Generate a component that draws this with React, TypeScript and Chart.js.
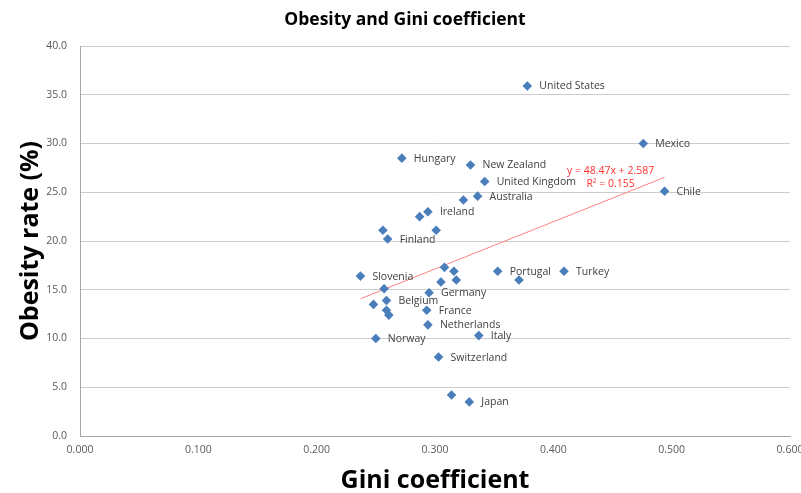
import React, { useEffect, useRef } from "react";
import { Chart, registerables } from "chart.js";

Chart.register(...registerables);

// OECD countries: Gini coefficient vs. adult obesity rate
const countries = [
  "United States", "Mexico", "Hungary", "New Zealand", "United Kingdom",
  "Chile", "Australia", "", "Ireland", "",
  "", "", "Finland", "", "",
  "Portugal", "Turkey", "Slovenia", "", "",
  "", "", "Germany", "Belgium", "",
  "", "France", "", "Netherlands", "Italy",
  "Norway", "Switzerland", "", "Japan",
];

const gini = [
  0.378, 0.476, 0.272, 0.330, 0.342,
  0.494, 0.336, 0.324, 0.294, 0.287,
  0.256, 0.301, 0.260, 0.308, 0.316,
  0.353, 0.409, 0.237, 0.318, 0.371,
  0.305, 0.257, 0.295, 0.259, 0.248,
  0.259, 0.293, 0.261, 0.294, 0.337,
  0.250, 0.303, 0.314, 0.329,
];

const obesity = [
  35.9, 30.0, 28.5, 27.8, 26.1,
  25.1, 24.6, 24.2, 23.0, 22.5,
  21.1, 21.1, 20.2, 17.3, 16.9,
  16.9, 16.9, 16.4, 16.0, 16.0,
  15.8, 15.1, 14.7, 13.9, 13.5,
  12.9, 12.9, 12.4, 11.4, 10.3,
  10.0, 8.1, 4.2, 3.5,
];

// Linear trend line as reported by the fit
const trendSlope = 48.47;
const trendIntercept = 2.587;
const trendR2 = 0.155;

const FONT = "'Open Sans', 'Noto Sans', sans-serif";

const annotations = {
  id: "countryAnnotations",
  afterDatasetsDraw(chart: any) {
    const { ctx } = chart;
    ctx.save();

    // country names to the right of each marker
    const pts = chart.getDatasetMeta(0).data;
    ctx.font = `10.5px ${FONT}`;
    ctx.fillStyle = "#404040";
    ctx.textAlign = "left";
    ctx.textBaseline = "middle";
    pts.forEach((pt: any, i: number) => {
      if (countries[i]) ctx.fillText(countries[i], pt.x + 12, pt.y + 0.5);
    });

    // trend equation near the end of the trend line
    const trendEnd = chart.getDatasetMeta(1).data[1];
    ctx.fillStyle = "#FF3030";
    ctx.textAlign = "center";
    ctx.fillText(`y = ${trendSlope}x + ${trendIntercept}`, trendEnd.x - 54, trendEnd.y - 6);
    ctx.fillText(`R² = ${trendR2}`, trendEnd.x - 54, trendEnd.y + 7);

    // chart title
    ctx.font = `bold 17.5px ${FONT}`;
    ctx.fillStyle = "#000000";
    ctx.fillText("Obesity and Gini coefficient", 405, 20);
    ctx.restore();
  },
};

export default function App() {
  const canvasRef = useRef<HTMLCanvasElement | null>(null);

  useEffect(() => {
    if (!canvasRef.current) return;
    const minX = Math.min(...gini);
    const maxX = Math.max(...gini);

    const chart = new Chart(canvasRef.current, {
      type: "scatter",
      data: {
        datasets: [
          {
            label: "Countries",
            data: gini.map((g, i) => ({ x: g, y: obesity[i] })),
            pointStyle: "rectRot",
            pointRadius: 4.8,
            backgroundColor: "#4A7EBB",
            borderColor: "#4A7EBB",
            borderWidth: 0,
          },
          {
            label: "Linear trend",
            type: "line",
            data: [
              { x: minX, y: trendSlope * minX + trendIntercept },
              { x: maxX, y: trendSlope * maxX + trendIntercept },
            ],
            borderColor: "#FF8080",
            borderWidth: 1,
            pointRadius: 0,
            fill: false,
          },
        ],
      },
      options: {
        animation: false,
        responsive: true,
        maintainAspectRatio: false,
        events: [],
        layout: { padding: { top: 46, right: 11, left: 0, bottom: 0 } },
        plugins: {
          legend: { display: false },
          tooltip: { enabled: false },
          title: { display: false },
        },
        scales: {
          x: {
            type: "linear",
            min: 0,
            max: 0.6,
            ticks: {
              stepSize: 0.1,
              padding: 8,
              color: "#595959",
              font: { family: FONT, size: 10.5 },
              callback: (v: any) => Number(v).toFixed(3),
            },
            grid: { display: false, drawTicks: false },
            border: { display: true, color: "#A6A6A6", width: 1 },
            title: {
              display: true,
              text: "Gini coefficient",
              color: "#000000",
              font: { family: FONT, size: 25, weight: "bold", lineHeight: 1 },
              padding: { top: 0, bottom: 0 },
            },
            afterFit: (scale: any) => {
              scale.height = 57;
              // let the last tick label run past the plot edge
              scale.paddingLeft = 0;
              scale.paddingRight = 0;
            },
          },
          y: {
            type: "linear",
            min: 0,
            max: 40,
            ticks: {
              stepSize: 5,
              padding: 13,
              color: "#595959",
              font: { family: FONT, size: 10.5 },
              callback: (v: any) => Number(v).toFixed(1),
            },
            grid: { color: "#CCCCCC", lineWidth: 1, drawTicks: false },
            border: { display: true, color: "#A6A6A6", width: 1 },
            title: {
              display: true,
              text: "Obesity rate (%)",
              color: "#000000",
              font: { family: FONT, size: 25, weight: "bold", lineHeight: 1 },
              padding: { top: 18, bottom: 0 },
            },
            afterFit: (scale: any) => {
              scale.width = 80;
              scale.paddingTop = 0;
              scale.paddingBottom = 0;
            },
          },
        },
      },
      plugins: [annotations],
    });

    return () => chart.destroy();
  }, []);

  return (
    <div style={{ position: "fixed", left: 0, top: 0, width: 801, height: 493, background: "#ffffff" }}>
      <canvas ref={canvasRef} />
    </div>
  );
}
